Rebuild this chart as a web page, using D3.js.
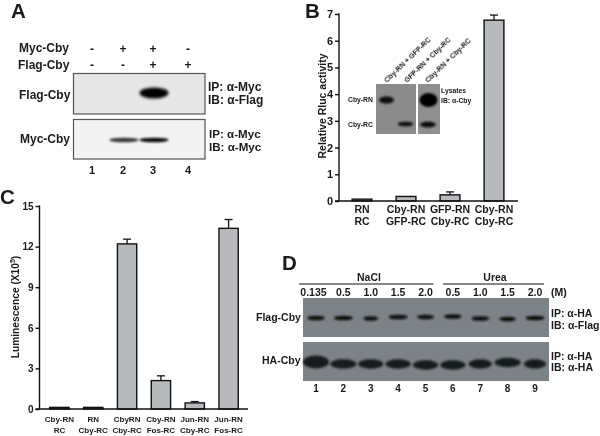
<!DOCTYPE html>
<html><head><meta charset="utf-8">
<script src="https://cdnjs.cloudflare.com/ajax/libs/d3/7.8.5/d3.min.js"></script>
<style>html,body{margin:0;padding:0;background:#fff}svg{display:block}text{font-family:"Liberation Sans",Arial,sans-serif;font-weight:bold;fill:#1a1a1a;filter:blur(0.3px)}</style>
</head><body><svg id="c" width="600" height="436"></svg>
<script>
// Panel B data
const bCats = [["RN","RC"],["Cby-RN","GFP-RC"],["GFP-RN","Cby-RC"],["Cby-RN","Cby-RC"]];
const bVals = [0.07,0.17,0.23,6.77];
const bErr = [0,0,0.11,0.19];
const bTicks = [0,1,2,3,4,5,6,7];
// Panel C data
const cCats = [["Cby-RN","RC"],["RN","Cby-RC"],["CbyRN","Cby-RC"],["Cby-RN","Fos-RC"],["Jun-RN","Cby-RC"],["Jun-RN","Fos-RC"]];
const cVals = [0.12,0.12,12.2,2.1,0.45,13.35];
const cErr = [0,0,0.35,0.35,0.1,0.65];
const cTicks = [0,3,6,9,12,15];
// Panel A blots
const aLanes = ["1","2","3","4"];
const aMyc = ["-","+","+","-"];
const aFlag = ["-","-","+","+"];
const aBlot1 = [0,0,1,0];
const aBlot2 = [0,0.8,1,0];
// Panel D blots
const dLanes = ["1","2","3","4","5","6","7","8","9"];
const dConc = ["0.135","0.5","1.0","1.5","2.0","0.5","1.0","1.5","2.0"];
const dFlagW = [0.88,0.95,0.72,0.95,0.85,0.88,0.88,0.82,0.95];
const dHaW = [1,1,0.97,0.97,0.97,0.97,0.9,1,0.85];
const insetLabels = ["Cby-RN + GFP-RC","GFP-RN + Cby-RC","Cby-RN + Cby-RC"];

const svg = d3.select("#c");
const defs = svg.append("defs");
[["b1",0.8],["b2",1.6],["b3",2.4]].forEach(([id,s])=>{
  defs.append("filter").attr("id",id).attr("x","-30%").attr("y","-60%").attr("width","160%").attr("height","220%")
    .append("feGaussianBlur").attr("stdDeviation",s);
});
function txt(x,y,s,size,anchor){
  return svg.append("text").attr("x",x).attr("y",y).attr("font-size",size).attr("text-anchor",anchor||"start").text(s);
}
function blot(x,y,w,h,fill,stroke){
  svg.append("rect").attr("x",x).attr("y",y).attr("width",w).attr("height",h).attr("fill",fill)
    .attr("stroke",stroke||"none").attr("stroke-width",stroke?1.2:0);
}
function band(cx,cy,w,h,fill,blur,op){
  svg.append("ellipse").attr("cx",cx).attr("cy",cy).attr("rx",w/2).attr("ry",h/2).attr("fill",fill)
    .attr("opacity",op==null?1:op).attr("filter","url(#"+blur+")");
}

// ---------- Panel A ----------
txt(11,18,"A",20.5);
txt(19,52,"Myc-Cby",12); txt(18,69,"Flag-Cby",12);
const aX = d3.scaleOrdinal().domain(aLanes).range([92,123,153,188]);
aLanes.forEach((l,i)=>{
  txt(aX(l),53,aMyc[i],12,"middle"); txt(aX(l),69,aFlag[i],12,"middle");
  txt(aX(l),174,l,11,"middle");
});
blot(73.5,73.5,131.5,40.5,"#e6e6e6","#555");
aBlot1.forEach((v,i)=>{ if(v) band(aX(aLanes[i])+1,93,29,11,"#050505","b2",v); });
blot(73.5,119.5,131.5,39.5,"#f3f3f3","#555");
aBlot2.forEach((v,i)=>{ if(v) band(aX(aLanes[i])+1,140,29,4.6,"#101010","b1",v); });
txt(19,99,"Flag-Cby",12); txt(20,143,"Myc-Cby",12);
txt(208,91,"IP: α-Myc",12); txt(208,104,"IB: α-Flag",12);
txt(209,137.5,"IP: α-Myc",11.6); txt(209,150.5,"IB: α-Myc",11.6);

// ---------- Panel B ----------
txt(305,18,"B",20.5);
const bY = d3.scaleLinear().domain([0,7]).range([201,14]);
const bX = d3.scaleBand().domain(bCats.map((d,i)=>i)).range([340,516]).paddingInner(0.55).paddingOuter(0.275);
function axes(y,x0,x1,ticks,fs,tlen){
  const g = svg.append("g").attr("transform",`translate(${x0},0)`).call(d3.axisLeft(y).tickValues(ticks).tickFormat(d3.format("d")).tickSize(tlen).tickPadding(2));
  g.selectAll("line").attr("stroke","#111").attr("stroke-width",1.4);
  g.selectAll("text").attr("font-size",fs).attr("font-family",null);
  g.select("path").remove();
  svg.append("line").attr("x1",x0).attr("x2",x0).attr("y1",y.range()[1]-0.7).attr("y2",y.range()[0]).attr("stroke","#111").attr("stroke-width",1.4);
  svg.append("line").attr("x1",x0-tlen).attr("x2",x1).attr("y1",y(0)).attr("y2",y(0)).attr("stroke","#111").attr("stroke-width",1.4);
}
function bars(x,y,vals,errs,cap){
  const w = x.bandwidth();
  vals.forEach((v,i)=>{
    const X = x(i);
    if(errs[i]){
      const cx = X+w/2;
      svg.append("line").attr("x1",cx).attr("x2",cx).attr("y1",y(v)).attr("y2",y(v+errs[i])).attr("stroke","#111").attr("stroke-width",1.3);
      svg.append("line").attr("x1",cx-cap).attr("x2",cx+cap).attr("y1",y(v+errs[i])).attr("y2",y(v+errs[i])).attr("stroke","#111").attr("stroke-width",1.3);
    }
    svg.append("rect").attr("x",X).attr("y",y(v)).attr("width",w).attr("height",y(0)-y(v))
      .attr("fill","#b8b9bd").attr("stroke","#111").attr("stroke-width",1.4);
  });
}
bars(bX,bY,bVals,bErr,4);
axes(bY,339,518,bTicks,11,4);
bCats.forEach((c,i)=>{
  const cx = bX(i)+bX.bandwidth()/2;
  txt(cx,213,c[0],10.5,"middle"); txt(cx,225,c[1],10.5,"middle");
});
svg.append("text").attr("transform","translate(326,106) rotate(-90)").attr("text-anchor","middle").attr("font-size",10.5).text("Relative Rluc activity");
blot(376,84,40,50,"#8b8b8b");
blot(418,84,22,50,"#8f8f8f");
band(386.5,100,15,7,"#080808","b1");
band(405.5,124,15.5,4.6,"#0a0a0a","b1");
band(428.5,100,18,14,"#060606","b1");
band(428,124.5,16,6,"#101010","b1");
insetLabels.forEach((s,i)=>{
  svg.append("text").attr("transform",`translate(${[387,407,428][i]},83) rotate(-44)`).attr("font-size",7.1).text(s);
});
txt(348,102,"Cby-RN",6.8); txt(348,127,"Cby-RC",6.8);
txt(441,93,"Lysates",6.8); txt(441,103,"IB: α-Cby",6.8);

// ---------- Panel C ----------
txt(0,204,"C",20.5);
const cY = d3.scaleLinear().domain([0,15]).range([409,206]);
const cX = d3.scaleBand().domain(cCats.map((d,i)=>i)).range([43,245]).paddingInner(0.43).paddingOuter(0.2);
bars(cX,cY,cVals,cErr,4);
axes(cY,39.5,248,cTicks,10,4);
cCats.forEach((c,i)=>{
  const cx = cX(i)+cX.bandwidth()/2;
  txt(cx,422,c[0],8,"middle"); txt(cx,432.5,c[1],8,"middle");
});
const cT = svg.append("text").attr("transform","translate(19,307) rotate(-90)").attr("text-anchor","middle").attr("font-size",10.2).attr("font-weight","normal");
cT.append("tspan").text("Luminescence (X10");
cT.append("tspan").attr("font-size",7).attr("dy",-4).text("5");
cT.append("tspan").attr("dy",4).text(")");

// ---------- Panel D ----------
txt(282,270,"D",20.5);
const dX = d3.scalePoint().domain(dLanes).range([316,535]);
txt(369,281,"NaCl",10.5,"middle"); txt(495,281,"Urea",10.5,"middle");
svg.append("line").attr("x1",299).attr("x2",433.5).attr("y1",284).attr("y2",284).attr("stroke","#111").attr("stroke-width",1);
svg.append("line").attr("x1",443).attr("x2",544).attr("y1",284).attr("y2",284).attr("stroke","#111").attr("stroke-width",1);
dConc.forEach((s,i)=>txt(i==0?313.5:dX(dLanes[i]),296,s,10.5,"middle"));
txt(551,296,"(M)",10.5);
blot(303,298,246,39,"#7d8287");
blot(303,342,246,39,"#7d8287");
const flagShift=[0,0,0.5,-1,-1,-1.5,0.5,1,0], haShift=[-2,0,0,0,1,1,0,-1.5,0];
const flagScale=d3.scaleLinear().domain([0,1]).range([0,20]), haScale=d3.scaleLinear().domain([0,1]).range([0,26]);
dFlagW.forEach((v,i)=>{ band(dX(dLanes[i]),318+flagShift[i],flagScale(v),4.6,"#0d0e10","b1"); });
dHaW.forEach((v,i)=>{ band(dX(dLanes[i]),364+haShift[i],haScale(v),i==0?13:9.5,"#181a1d","b1"); });
txt(256,321,"Flag-Cby",10.5); txt(262,364,"HA-Cby",10.5);
txt(551,317,"IP: α-HA",10.5); txt(551,329,"IB: α-Flag",10.5);
txt(551,360,"IP: α-HA",10.5); txt(551,371,"IB: α-HA",10.5);
dLanes.forEach(l=>txt(dX(l),392,l,10,"middle"));
</script></body></html>
